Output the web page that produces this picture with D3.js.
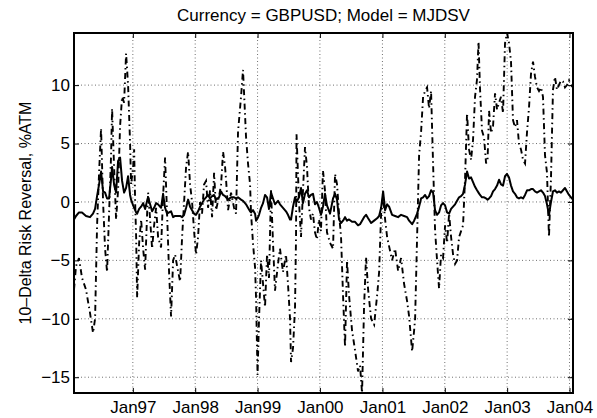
<!DOCTYPE html>
<html>
<head>
<meta charset="utf-8">
<script src="https://cdn.jsdelivr.net/npm/d3@7"></script>
<style>
  body { margin: 0; background: #fff; }
  svg { display: block; font-family: "Liberation Sans", Arial, Helvetica, sans-serif; }
</style>
</head>
<body>
<div id="chart"></div>
<script>
// observation times, in decimal years
var years = [
  1996.059, 1996.091, 1996.139, 1996.187, 1996.251, 1996.315, 1996.363, 1996.396, 1996.428, 1996.460,
  1996.492, 1996.524, 1996.556, 1996.588, 1996.620, 1996.652, 1996.668, 1996.700, 1996.732, 1996.764,
  1996.796, 1996.828, 1996.860, 1996.892, 1996.924, 1996.956, 1996.972, 1997.005, 1997.021, 1997.037,
  1997.053, 1997.069, 1997.101, 1997.133, 1997.165, 1997.197, 1997.229, 1997.245, 1997.277, 1997.309,
  1997.341, 1997.373, 1997.405, 1997.453, 1997.485, 1997.517, 1997.549, 1997.581, 1997.613, 1997.646,
  1997.678, 1997.710, 1997.758, 1997.790, 1997.822, 1997.854, 1997.886, 1997.918, 1997.950, 1997.982,
  1998.014, 1998.046, 1998.078, 1998.110, 1998.142, 1998.174, 1998.206, 1998.238, 1998.271, 1998.303,
  1998.335, 1998.383, 1998.415, 1998.447, 1998.479, 1998.495, 1998.527, 1998.575, 1998.623, 1998.655,
  1998.687, 1998.735, 1998.767, 1998.799, 1998.815, 1998.847, 1998.880, 1998.896, 1998.928, 1998.960,
  1998.976, 1999.000, 1999.024, 1999.056, 1999.088, 1999.120, 1999.152, 1999.184, 1999.216, 1999.248,
  1999.280, 1999.328, 1999.360, 1999.408, 1999.456, 1999.488, 1999.521, 1999.537, 1999.569, 1999.601,
  1999.617, 1999.625, 1999.665, 1999.697, 1999.729, 1999.761, 1999.793, 1999.825, 1999.857, 1999.889,
  1999.921, 1999.953, 1999.985, 2000.017, 2000.049, 2000.081, 2000.113, 2000.162, 2000.210, 2000.242,
  2000.274, 2000.306, 2000.338, 2000.370, 2000.402, 2000.434, 2000.466, 2000.514, 2000.562, 2000.610,
  2000.642, 2000.674, 2000.706, 2000.738, 2000.771, 2000.819, 2000.867, 2000.915, 2000.947, 2000.979,
  2001.011, 2001.043, 2001.075, 2001.107, 2001.155, 2001.203, 2001.251, 2001.299, 2001.347, 2001.396,
  2001.428, 2001.476, 2001.508, 2001.524, 2001.556, 2001.588, 2001.620, 2001.652, 2001.684, 2001.716,
  2001.748, 2001.780, 2001.812, 2001.844, 2001.876, 2001.908, 2001.940, 2001.972, 2002.005, 2002.037,
  2002.069, 2002.101, 2002.133, 2002.165, 2002.197, 2002.229, 2002.261, 2002.293, 2002.325, 2002.357,
  2002.389, 2002.421, 2002.453, 2002.485, 2002.517, 2002.541, 2002.565, 2002.597, 2002.630, 2002.662,
  2002.686, 2002.710, 2002.742, 2002.774, 2002.806, 2002.838, 2002.870, 2002.902, 2002.934, 2002.966,
  2002.998, 2003.030, 2003.062, 2003.094, 2003.126, 2003.158, 2003.190, 2003.222, 2003.255, 2003.287,
  2003.319, 2003.351, 2003.383, 2003.415, 2003.447, 2003.479, 2003.511, 2003.543, 2003.575, 2003.607,
  2003.639, 2003.671, 2003.703, 2003.735, 2003.767, 2003.799, 2003.831, 2003.863, 2003.896, 2003.928,
  2003.960, 2003.992, 2004.024, 2004.056
];

// dash-dot series (volatile one)
var dashedValues = [
  -7.5, -5.5, -4.8, -6.5, -7.5, -9.5, -11.2, -10.0, -2.0, 2.5,
  6.3, 0.0, -4.0, -6.0, -1.0, 4.0, 8.0, 3.0, -1.5, 1.0,
  6.5, 9.0, 8.5, 12.7, 10.0, 5.0, 1.5, 3.0, 4.5, 0.0,
  -3.0, -8.2, -3.5, -1.5, -4.0, -5.8, -1.0, 0.8, -1.5, -4.0,
  -2.0, -0.5, -3.0, -3.9, 0.5, 3.8, -1.0, -6.0, -9.8, -5.0,
  -4.5, -5.5, -6.8, -3.0, 0.0, 3.0, 4.3, 1.5, 0.0, -2.5,
  -4.5, -3.0, 0.0, -1.0, 1.5, 1.8, -0.5, 1.0, -1.3, 2.5,
  -0.7, 0.5, 1.5, 4.3, 3.0, 1.9, -0.7, 0.8, -0.5, -1.0,
  6.0, 9.0, 11.3, 7.5, 5.6, 3.3, 1.5, -1.0, -3.6, -5.6,
  -8.2, -14.8, -10.0, -5.0, -7.0, -9.0, -4.5, -6.5, 1.0, -3.5,
  -7.6, -5.3, -4.0, -6.0, -4.5, -7.0, -10.0, -13.7, -12.5, -9.0,
  -3.0, 5.8, 0.0, -3.0, 1.0, 4.7, 3.0, -0.5, -1.5, -1.0,
  -2.6, -3.2, -1.5, -2.5, 2.7, 1.0, -2.6, -3.5, -4.0, 2.4,
  1.5, -1.0, -3.0, -8.0, -12.4, -5.0, -8.0, -11.0, -12.7, -14.5,
  -14.0, -16.35, -9.0, -4.7, -7.5, -10.0, -10.5, -8.0, -6.0, -1.0,
  0.5, -1.5, -3.0, -3.8, -5.0, -4.0, -5.9, -4.8, -7.0, -8.5,
  -9.8, -12.8, -11.0, -10.0, -3.0, 4.0, 6.0, 9.0, 9.5, 9.8,
  8.0, 9.5, 3.3, -2.4, -5.0, -7.4, -4.5, -4.8, -2.0, -3.5,
  -1.0, -3.0, -4.5, -5.3, -5.0, -3.0, -2.5, -2.0, 2.0, 7.6,
  4.5, 3.6, 5.3, 9.0, 10.5, 13.7, 9.7, 6.1, 5.5, 3.3,
  3.6, 7.8, 5.9, 6.5, 9.3, 7.9, 8.5, 9.0, 7.6, 13.6,
  14.46, 13.6, 12.0, 7.0, 6.4, 7.0, 5.0, 4.5, 3.6, 3.3,
  6.0, 8.1, 11.0, 12.0, 10.7, 9.8, 9.5, 9.8, 9.0, 4.0,
  2.5, -3.0, 2.0, 9.6, 10.7, 9.6, 10.0, 10.4, 10.3, 9.8,
  10.0, 10.4, 10.0, 9.8
];

// solid series (smooth one)
var solidValues = [
  -1.5, -1.2, -0.9, -0.9, -1.2, -1.3, -1.0, -0.6, 0.5, 1.5,
  2.6, 0.9, 0.8, 0.3, 0.3, 2.0, 3.0, 1.5, 0.8, 3.5,
  3.8, 1.8, 0.8, 1.2, 2.2, 0.6, 0.2, -0.3, -0.5, -0.7,
  -0.9, -1.0, -0.6, -0.4, -0.1, -0.6, 0.1, 0.4, -0.2, -0.8,
  -0.5, -0.1, -0.2, -0.5, 0.7, -0.5, -1.0, -0.9, -0.8, -1.3,
  -1.2, -1.2, -1.2, -1.3, -1.1, -0.5, 0.2, -0.4, -0.7, -1.0,
  -1.1, -0.8, -0.4, -0.1, 0.2, 0.4, 0.6, 0.3, 0.5, 0.6,
  0.2, 0.4, 0.9, 0.6, 0.5, 0.4, 0.2, 0.4, 0.4, 0.3,
  0.4, 0.2, 0.1, -0.1, -0.2, -0.5, -0.8, -0.9, -0.7, -1.0,
  -1.6, -1.4, -1.1, -0.5, -0.1, 0.6, 0.4, -0.6, 0.8, 0.3,
  -0.2, 0.1, -0.2, -0.5, -0.8, -1.1, -1.5, -1.5, -0.4, 0.4,
  0.2, 0.0, 0.4, 1.2, -0.1, 0.7, 1.0, 0.4, 0.6, 0.7,
  -0.2, 0.0, -0.5, -1.1, -0.4, 0.7, -0.3, -1.0, 0.3, 0.7,
  0.2, -1.5, -1.8, -1.6, -1.3, -1.6, -1.5, -1.7, -1.7, -2.0,
  -1.9, -1.6, -1.3, -1.1, -1.4, -1.8, -1.6, -1.4, -1.2, -0.5,
  0.9, -0.7, -0.2, -0.4, -1.1, -1.2, -1.3, -1.1, -1.2, -1.3,
  -1.6, -1.9, -1.6, -1.4, -1.0, -0.4, 0.3, 0.4, 0.6, 0.3,
  0.5, 1.0, 0.8, -0.7, -1.1, -0.9, -0.3, -0.1, -0.3, -0.9,
  -1.0, -0.6, -0.4, -0.2, 0.1, 0.4, 0.5, 0.7, 1.5, 2.6,
  2.0, 2.1, 1.7, 1.3, 1.0, 0.8, 0.6, 0.4, 0.4, 0.3,
  0.2, 0.3, 0.5, 0.9, 1.1, 1.4, 1.9, 1.5, 1.4, 2.2,
  2.4, 2.1, 1.4, 0.9, 0.7, 0.4, 0.3, 0.4, 0.3, 0.6,
  1.0, 1.0, 1.1, 1.1, 0.9, 0.8, 0.9, 1.0, 0.8, 0.5,
  -0.2, -1.1, 0.0, 0.9, 1.0, 0.8, 0.9, 0.8, 1.0, 1.2,
  0.9, 0.6, 0.4, 0.2
];

var yTicks = [-15, -10, -5, 0, 5, 10];
var xTickYears = [1997, 1998, 1999, 2000, 2001, 2002, 2003, 2004];
var titleText = "Currency = GBPUSD; Model = MJDSV";
var yLabelText = "10\u2013Delta Risk Reversal, %ATM";

// set the dimensions and margins of the graph
var W = 597, H = 418;
var margin = {top: 33, right: 24, bottom: 25, left: 74};

function yearToDate(y) {
  var yr = Math.floor(y);
  var a = Date.UTC(yr, 0, 1), b = Date.UTC(yr + 1, 0, 1);
  return new Date(a + (y - yr) * (b - a));
}

var dates = years.map(yearToDate);
var all = dashedValues.concat(solidValues);

var x = d3.scaleUtc()
    .domain(d3.extent(dates))
    .range([margin.left, W - margin.right]);
var y = d3.scaleLinear()
    .domain(d3.extent(all))
    .range([H - margin.bottom, margin.top]);

var svg = d3.select("#chart").append("svg")
    .attr("width", W)
    .attr("height", H);

svg.append("rect").attr("width", W).attr("height", H).attr("fill", "#fff");

svg.append("clipPath").attr("id", "plot-clip")
  .append("rect")
    .attr("x", margin.left).attr("y", margin.top)
    .attr("width", W - margin.left - margin.right)
    .attr("height", H - margin.top - margin.bottom);

var xTicks = xTickYears.map(function(d) { return new Date(Date.UTC(d, 0, 1)); });
var fmtX = d3.utcFormat("%b%y");

// dotted grid
var grid = svg.append("g")
    .attr("stroke", "#000")
    .attr("stroke-width", 0.8)
    .attr("stroke-dasharray", "1,2.5")
    .attr("opacity", 0.7);
grid.selectAll(".gx").data(xTicks).enter().append("line")
    .attr("x1", function(d) { return x(d); }).attr("x2", function(d) { return x(d); })
    .attr("y1", margin.top).attr("y2", H - margin.bottom);
grid.selectAll(".gy").data(yTicks).enter().append("line")
    .attr("y1", function(d) { return y(d); }).attr("y2", function(d) { return y(d); })
    .attr("x1", margin.left).attr("x2", W - margin.right);

// lines
var line = function(vals) {
  return d3.line()
    .x(function(d, i) { return x(dates[i]); })
    .y(function(d) { return y(d); })(vals);
};

svg.append("path")
    .attr("clip-path", "url(#plot-clip)")
    .attr("d", line(dashedValues))
    .attr("fill", "none")
    .attr("stroke", "#000")
    .attr("stroke-width", 1.9)
    .attr("stroke-dasharray", "6,3.5,1.5,3.5");

svg.append("path")
    .attr("clip-path", "url(#plot-clip)")
    .attr("d", line(solidValues))
    .attr("fill", "none")
    .attr("stroke", "#000")
    .attr("stroke-width", 2)
    .attr("stroke-linejoin", "round");

// axes, ticks pointing inward on all four sides
var fs = 17;
function styleAxis(g) {
  g.select(".domain").remove();
  g.selectAll(".tick line").attr("stroke", "#000").attr("stroke-width", 1);
  g.selectAll("text").attr("font-size", fs).attr("fill", "#000")
    .attr("font-family", '"Liberation Sans", Arial, Helvetica, sans-serif');
}

svg.append("g")
    .attr("transform", "translate(" + margin.left + ",0)")
    .call(d3.axisLeft(y).tickValues(yTicks).tickSize(-5).tickPadding(4))
    .call(styleAxis);
svg.append("g")
    .attr("transform", "translate(" + (W - margin.right) + ",0)")
    .call(d3.axisRight(y).tickValues(yTicks).tickSize(-5).tickFormat(""))
    .call(styleAxis);
svg.append("g")
    .attr("transform", "translate(0," + (H - margin.bottom) + ")")
    .call(d3.axisBottom(x).tickValues(xTicks).tickFormat(fmtX).tickSize(-5).tickPadding(8))
    .call(styleAxis);
svg.append("g")
    .attr("transform", "translate(0," + margin.top + ")")
    .call(d3.axisTop(x).tickValues(xTicks).tickSize(-5).tickFormat(""))
    .call(styleAxis);

// box
svg.append("rect")
    .attr("x", margin.left).attr("y", margin.top)
    .attr("width", W - margin.left - margin.right)
    .attr("height", H - margin.top - margin.bottom)
    .attr("fill", "none")
    .attr("stroke", "#000")
    .attr("stroke-width", 2);

// title
svg.append("text")
    .attr("x", (margin.left + W - margin.right) / 2)
    .attr("y", 21)
    .attr("text-anchor", "middle")
    .attr("font-size", fs)
    .text(titleText);

// y label
svg.append("text")
    .attr("transform", "translate(31," + ((margin.top + H - margin.bottom) / 2) + ") rotate(-90)")
    .attr("text-anchor", "middle")
    .attr("font-size", 16)
    .text(yLabelText);
</script>
</body>
</html>
